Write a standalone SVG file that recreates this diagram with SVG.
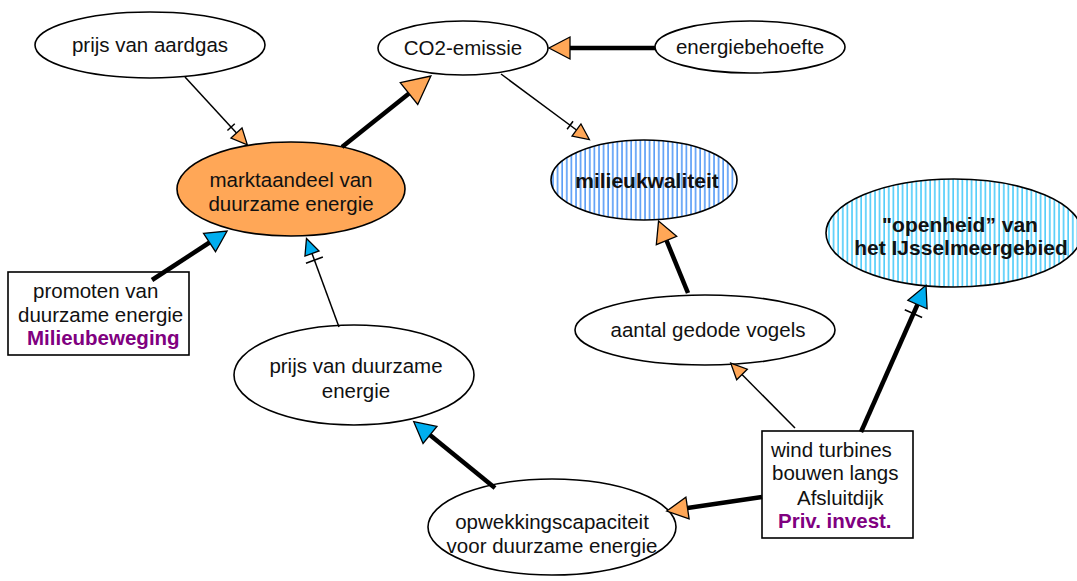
<svg xmlns="http://www.w3.org/2000/svg" width="1077" height="581" viewBox="0 0 1077 581">
  <style>
    .node { stroke: #000; stroke-width: 1.6; }
    .plain { fill: #fff; }
    .box { fill: #fff; stroke: #000; stroke-width: 1.6; }
    text { font-family: "Liberation Sans", Arial, sans-serif; font-size: 20.5px; fill: #111; }
    .mid { text-anchor: middle; }
    .bold { font-weight: bold; font-size: 21px; }
    .actor { font-weight: bold; fill: #800080; }
    .thin { stroke: #000; stroke-width: 1.5; fill: none; }
    .thick { stroke: #000; stroke-width: 4.5; fill: none; }
    .headO { fill: #FFA757; stroke: #000; stroke-width: 1.3; stroke-linejoin: miter; }
    .headB { fill: #00AEEF; stroke: #000; stroke-width: 1.3; stroke-linejoin: miter; }
    .tick { stroke: #000; stroke-width: 1.5; fill: none; }
  </style>
  <defs>
    <pattern id="stripesBlue" width="4.6" height="10" patternUnits="userSpaceOnUse">
      <rect width="4.6" height="10" fill="#fff"/>
      <line x1="1" y1="0" x2="1" y2="10" stroke="#3C8CF5" stroke-width="1.4"/>
    </pattern>
    <pattern id="stripesCyan" width="4.6" height="10" patternUnits="userSpaceOnUse">
      <rect width="4.6" height="10" fill="#fff"/>
      <line x1="1" y1="0" x2="1" y2="10" stroke="#33C4F8" stroke-width="1.4"/>
    </pattern>
    <!-- arrowheads: reference point is the centre of the base -->
    <marker id="thinO" markerUnits="userSpaceOnUse" markerWidth="1" markerHeight="1" refX="0" refY="0" orient="auto" overflow="visible">
      <path class="headO" d="M0,-7.5 L16,0 L0,7.5 Z"/>
    </marker>
    <marker id="thinONeg" markerUnits="userSpaceOnUse" markerWidth="1" markerHeight="1" refX="0" refY="0" orient="auto" overflow="visible">
      <path class="tick" d="M-8,-5 L-8,5"/>
      <path class="headO" d="M0,-7.5 L16,0 L0,7.5 Z"/>
    </marker>
    <marker id="thinBNeg" markerUnits="userSpaceOnUse" markerWidth="1" markerHeight="1" refX="0" refY="0" orient="auto" overflow="visible">
      <path class="tick" d="M-7,-9 L-7,9"/>
      <path class="headB" d="M0,-7.5 L16,0 L0,7.5 Z"/>
    </marker>
    <marker id="thickO" markerUnits="userSpaceOnUse" markerWidth="1" markerHeight="1" refX="0" refY="0" orient="auto" overflow="visible">
      <path class="headO" d="M0,-11 L21,0 L0,11 Z"/>
    </marker>
    <marker id="thickOBig" markerUnits="userSpaceOnUse" markerWidth="1" markerHeight="1" refX="0" refY="0" orient="auto" overflow="visible">
      <path class="headO" d="M0,-14 L28,0 L0,14 Z"/>
    </marker>
    <marker id="thickB" markerUnits="userSpaceOnUse" markerWidth="1" markerHeight="1" refX="0" refY="0" orient="auto" overflow="visible">
      <path class="headB" d="M0,-11 L21,0 L0,11 Z"/>
    </marker>
    <marker id="thickBNeg" markerUnits="userSpaceOnUse" markerWidth="1" markerHeight="1" refX="0" refY="0" orient="auto" overflow="visible">
      <path class="tick" d="M-10,-9.5 L-10,9.5"/>
      <path class="headB" d="M0,-10.5 L21,0 L0,10.5 Z"/>
    </marker>
  </defs>

  <rect width="1077" height="581" fill="#fff"/>

  <!-- nodes -->
  <g id="prijs-aardgas">
    <ellipse class="node plain" cx="150" cy="45" rx="115" ry="33"/>
    <text class="mid" x="150" y="52">prijs van aardgas</text>
  </g>
  <g id="co2-emissie">
    <ellipse class="node plain" cx="463" cy="48" rx="85" ry="27"/>
    <text class="mid" x="463" y="55">CO2-emissie</text>
  </g>
  <g id="energiebehoefte">
    <ellipse class="node plain" cx="750" cy="47" rx="95" ry="26"/>
    <text class="mid" x="750" y="54">energiebehoefte</text>
  </g>
  <g id="marktaandeel">
    <ellipse class="node" fill="#FFA757" cx="291" cy="189" rx="114" ry="47"/>
    <text class="mid" x="291" y="187">marktaandeel van</text>
    <text class="mid" x="291" y="211">duurzame energie</text>
  </g>
  <g id="milieukwaliteit">
    <ellipse class="node" fill="url(#stripesBlue)" cx="644" cy="180" rx="93" ry="40"/>
    <text class="mid bold" x="647" y="188">milieukwaliteit</text>
  </g>
  <g id="openheid">
    <ellipse class="node" fill="url(#stripesCyan)" cx="954" cy="233" rx="128" ry="54"/>
    <text class="mid bold" x="960" y="232">"openheid” van</text>
    <text class="mid bold" x="961" y="255">het IJsselmeergebied</text>
  </g>
  <g id="gedode-vogels">
    <ellipse class="node plain" cx="705" cy="330" rx="130" ry="35"/>
    <text class="mid" x="708" y="337">aantal gedode vogels</text>
  </g>
  <g id="prijs-duurzaam">
    <ellipse class="node plain" cx="354" cy="375" rx="120" ry="50"/>
    <text class="mid" x="356" y="373">prijs van duurzame</text>
    <text class="mid" x="356" y="398">energie</text>
  </g>
  <g id="opwekkingscapaciteit">
    <ellipse class="node plain" cx="552" cy="527" rx="124" ry="48"/>
    <text class="mid" x="552" y="529">opwekkingscapaciteit</text>
    <text class="mid" x="552" y="553">voor duurzame energie</text>
  </g>
  <g id="promoten">
    <rect class="box" x="8" y="272" width="181" height="83"/>
    <text x="33" y="298">promoten van</text>
    <text x="18" y="322">duurzame energie</text>
    <text class="actor" x="27" y="345">Milieubeweging</text>
  </g>
  <g id="windturbines">
    <rect class="box" x="762" y="431" width="151" height="107"/>
    <text x="771" y="457">wind turbines</text>
    <text x="772" y="480">bouwen langs</text>
    <text x="797" y="505">Afsluitdijk</text>
    <text class="actor" x="778" y="528">Priv. invest.</text>
  </g>

  <!-- connectors -->
  <g id="connectors">
    <path class="thin" d="M185,77 L236.5,133" marker-end="url(#thinONeg)"/>
    <path class="thick" d="M342,147 L409,93.5" marker-end="url(#thickOBig)"/>
    <path class="thin" d="M501,74 L576.5,130" marker-end="url(#thinONeg)"/>
    <path class="thick" d="M655,48 L570,48" marker-end="url(#thickO)"/>
    <path class="thick" d="M152,280 L209.5,242.5" marker-end="url(#thickB)"/>
    <path class="thin" d="M339,327 L312,253.5" marker-end="url(#thinBNeg)"/>
    <path class="thick" d="M688,293 L666.5,240.5" marker-end="url(#thickO)"/>
    <path class="thin" d="M795,428 L742,374.5" marker-end="url(#thinO)"/>
    <path class="thick" d="M861,432 L917.5,304.5" marker-end="url(#thickBNeg)"/>
    <path class="thick" d="M762,497 L687.5,508" marker-end="url(#thickO)"/>
    <path class="thick" d="M495,488 L430,435" marker-end="url(#thickB)"/>
  </g>
</svg>
